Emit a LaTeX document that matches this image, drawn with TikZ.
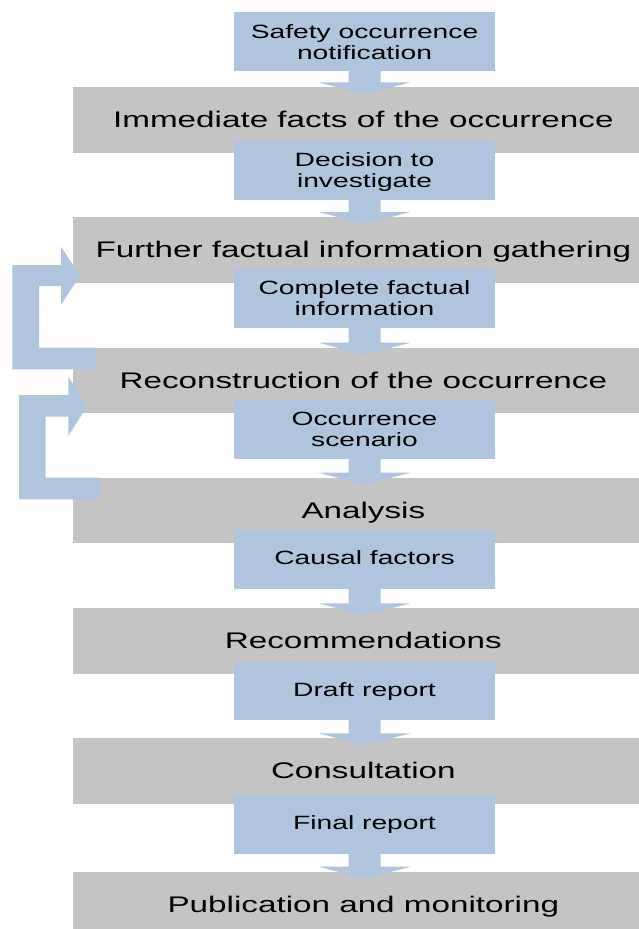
\documentclass[tikz,border=0pt]{standalone}
\usepackage{fontspec}
\setmainfont{Liberation Sans}
\usepackage{graphicx}
\usetikzlibrary{calc}

\definecolor{stepblue}{HTML}{B0C4DE}
\definecolor{phasegray}{HTML}{C4C4C4}

% wide (horizontally stretched) centred label, one or more lines;
% the optional argument lowers the text without changing its box
\newcommand\wtext[2][0pt]{\raisebox{#1}[\height][\depth]{%
  \scalebox{1.47}[1]{\begin{tabular}{@{}c@{}}#2\end{tabular}}}}

% broad block arrow from an output box down into the next phase
\newcommand\flowstep[2]{%
  \fill[flow] let \p1=(#1.south), \p2=(#2.north) in
    (\x1-16pt,\y1) -- (\x1+16pt,\y1) -- (\x1+16pt,\y2+5pt) --
    (\x1+46pt,\y2+5pt) -- (\x1,\y2-7pt) -- (\x1-46pt,\y2+5pt) --
    (\x1-16pt,\y2+5pt) -- cycle;}

\tikzset{
  phase/.style={fill=phasegray, draw=none, anchor=north west, inner sep=0pt,
    outer sep=0pt, minimum width=581.3pt, minimum height=65.5pt,
    font=\fontsize{22.6}{26}\selectfont},
  output/.style={fill=stepblue, draw=none, anchor=north west, inner sep=0pt,
    outer sep=0pt, minimum width=261pt, minimum height=58.5pt,
    font=\fontsize{19.2}{21}\selectfont},
  flow/.style={fill=stepblue, draw=none}
}

\begin{document}
\begin{tikzpicture}[x=1pt, y=-1pt]
\useasboundingbox (0,0) rectangle (639,929);
\clip (0,0) rectangle (639,929);

% investigation phases
\node[phase] (g1) at (72.7,87.3)  {\wtext[-2.5pt]{Immediate facts of the occurrence}};
\node[phase] (g2) at (72.7,217)   {\wtext[-2.5pt]{Further factual information gathering}};
\node[phase] (g3) at (72.7,347.7) {\wtext[-2.5pt]{Reconstruction of the occurrence}};
\node[phase] (g4) at (72.7,477.7) {\wtext[-2.5pt]{Analysis}};
\node[phase] (g5) at (72.7,608.3) {\wtext[-2.5pt]{Recommendations}};
\node[phase] (g6) at (72.7,738.3) {\wtext[-2.5pt]{Consultation}};
\node[phase] (g7) at (72.7,871.7) {\wtext[-2.5pt]{Publication and monitoring}};

% outputs of each phase
\node[output] (b1) at (234,12.3)  {\wtext[-3pt]{Safety occurrence\\notification}};
\node[output] (b2) at (234,141)   {\wtext[-3pt]{Decision to\\investigate}};
\node[output] (b3) at (234,269)   {\wtext[-3pt]{Complete factual\\information}};
\node[output] (b4) at (234,400)   {\wtext[-3pt]{Occurrence\\scenario}};
\node[output] (b5) at (234,530)   {\wtext[-1.5pt]{Causal factors}};
\node[output] (b6) at (234,661.7) {\wtext[-1.5pt]{Draft report}};
\node[output] (b7) at (234,795)   {\wtext[-1.5pt]{Final report}};

% downward flow
\flowstep{b1}{g1}
\flowstep{b2}{g2}
\flowstep{b3}{g3}
\flowstep{b4}{g4}
\flowstep{b5}{g5}
\flowstep{b6}{g6}
\flowstep{b7}{g7}

% feedback: reconstruction back to information gathering
\fill[flow] let \p1=(g2.north west), \p2=(g3.north west) in
  (\x1-60.4pt,\y1-48pt) -- (\x1-11.7pt,\y1-48pt) -- (\x1-11.7pt,\y1-29.7pt) --
  (\x1+7.3pt,\y1-58.8pt) -- (\x1-11.7pt,\y1-88pt) -- (\x1-11.7pt,\y1-69pt) --
  (\x1-33.7pt,\y1-69pt) -- (\x2-33.7pt,\y2) -- (\x2+24pt,\y2) --
  (\x2+24pt,\y2-21.6pt) -- (\x2-60.4pt,\y2-21.6pt) -- cycle;

% feedback: analysis back to reconstruction
\fill[flow] let \p1=(g3.north west), \p2=(g4.north west) in
  (\x1-53.7pt,\y1-47.3pt) -- (\x1-4.4pt,\y1-47.3pt) -- (\x1-4.4pt,\y1-29pt) --
  (\x1+14.6pt,\y1-58.3pt) -- (\x1-4.4pt,\y1-88.3pt) -- (\x1-4.4pt,\y1-69pt) --
  (\x1-27pt,\y1-69pt) -- (\x2-27pt,\y2) -- (\x2+27.3pt,\y2) --
  (\x2+27.3pt,\y2-21.6pt) -- (\x2-53.7pt,\y2-21.6pt) -- cycle;
\end{tikzpicture}
\end{document}
